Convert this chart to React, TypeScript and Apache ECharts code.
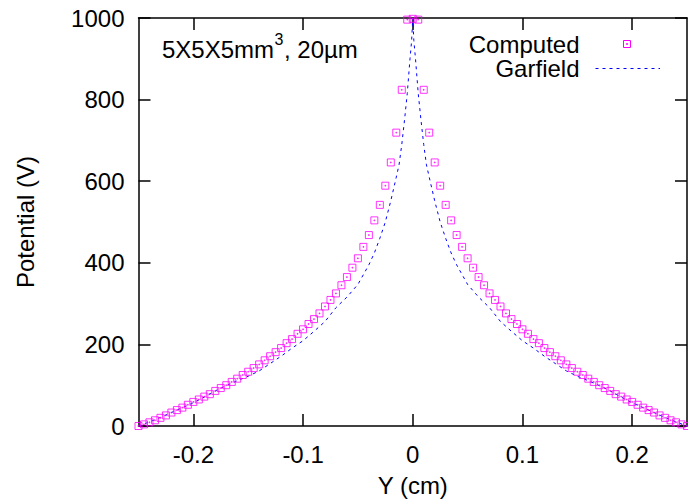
import React, { useEffect, useRef } from "react";
import * as echarts from "echarts";

// Computed potential (V) sampled every 0.005 cm
const computedY = [
  -0.25, -0.245, -0.24, -0.235, -0.23, -0.225, -0.22, -0.215, -0.21, -0.205,
  -0.2, -0.195, -0.19, -0.185, -0.18, -0.175, -0.17, -0.165, -0.16, -0.155,
  -0.15, -0.145, -0.14, -0.135, -0.13, -0.125, -0.12, -0.115, -0.11, -0.105,
  -0.1, -0.095, -0.09, -0.085, -0.08, -0.075, -0.07, -0.065, -0.06, -0.055,
  -0.05, -0.045, -0.04, -0.035, -0.03, -0.025, -0.02, -0.015, -0.01, -0.005,
  0,
  0.005, 0.01, 0.015, 0.02, 0.025, 0.03, 0.035, 0.04, 0.045, 0.05,
  0.055, 0.06, 0.065, 0.07, 0.075, 0.08, 0.085, 0.09, 0.095, 0.1,
  0.105, 0.11, 0.115, 0.12, 0.125, 0.13, 0.135, 0.14, 0.145, 0.15,
  0.155, 0.16, 0.165, 0.17, 0.175, 0.18, 0.185, 0.19, 0.195, 0.2,
  0.205, 0.21, 0.215, 0.22, 0.225, 0.23, 0.235, 0.24, 0.245, 0.25,
];
const computedV = [
  0, 4, 9, 14, 20, 26, 33, 39, 45, 52,
  59, 65, 72, 78, 86, 93, 100, 108, 116, 125,
  133, 142, 151, 161, 171, 181, 191, 203, 213, 226,
  237, 250, 262, 276, 293, 309, 325, 345, 365, 388,
  411, 439, 468, 504, 542, 589, 646, 719, 824, 996,
  998,
  996, 824, 719, 646, 589, 542, 504, 468, 439, 411,
  388, 365, 345, 325, 309, 293, 276, 262, 250, 237,
  226, 213, 203, 191, 181, 171, 161, 151, 142, 133,
  125, 116, 108, 100, 93, 86, 78, 72, 65, 59,
  52, 45, 39, 33, 26, 20, 14, 9, 4, 0,
];

// Garfield reference curve
const garfieldY = [
  -0.25, -0.24, -0.23, -0.22, -0.21, -0.2, -0.19, -0.18, -0.17, -0.16,
  -0.15, -0.14, -0.13, -0.12, -0.11, -0.1, -0.09, -0.08, -0.07, -0.06,
  -0.05, -0.04, -0.035, -0.03, -0.025, -0.02, -0.015, -0.0125, -0.01, -0.0075,
  -0.005, -0.0025, -0.001, 0,
  0.001, 0.0025, 0.005, 0.0075, 0.01, 0.0125, 0.015, 0.02, 0.025, 0.03,
  0.035, 0.04, 0.05, 0.06, 0.07, 0.08, 0.09, 0.1, 0.11, 0.12,
  0.13, 0.14, 0.15, 0.16, 0.17, 0.18, 0.19, 0.2, 0.21, 0.22,
  0.23, 0.24, 0.25,
];
const garfieldV = [
  0, 10, 21, 33, 45, 57, 71, 86, 99, 111,
  122, 135, 153, 171, 191, 209, 232, 256, 290, 316,
  347, 395, 424, 460, 500, 552, 610, 640, 690, 750,
  815, 900, 945, 1000,
  945, 900, 815, 750, 690, 640, 610, 552, 500, 460,
  424, 395, 347, 316, 290, 256, 232, 209, 191, 171,
  153, 135, 122, 111, 99, 86, 71, 57, 45, 33,
  21, 10, 0,
];

const legendNames = ["Computed", "Garfield"];
const xTicks = [-0.2, -0.1, 0, 0.1, 0.2];
const yTicks = [0, 200, 400, 600, 800, 1000];

const FONT = "Liberation Sans, Arial, Helvetica, sans-serif";

export default function App() {
  const ref = useRef<HTMLDivElement>(null);
  useEffect(() => {
    if (!ref.current) return;
    const chart = echarts.init(ref.current, undefined, { renderer: "svg" });
    const line = { onZero: false, lineStyle: { color: "#000", width: 1.5 } };
    const tick = { inside: true, length: 12, lineStyle: { color: "#000", width: 1.5 } };
    const sq = "path://M0,0H10V10H0Z M4.4,4.4H5.6V5.6H4.4Z";
    const fmt = (v: number) => String(v);
    chart.setOption({
      animation: false,
      backgroundColor: "#fff",
      textStyle: { fontFamily: FONT },
      grid: { left: 138.5, right: 1, top: 18, bottom: 73, containLabel: false, outerBoundsMode: "none" },
      xAxis: [
        {
          type: "value", min: -0.25, max: 0.25, position: "bottom",
          axisLine: line,
          axisTick: { ...tick, customValues: xTicks },
          axisLabel: { customValues: xTicks, formatter: fmt, color: "#000", fontSize: 24, fontFamily: FONT, margin: 16 },
          splitLine: { show: false },
          name: "Y (cm)", nameLocation: "middle", nameGap: 47,
          nameTextStyle: { color: "#000", fontSize: 24, fontFamily: FONT },
        },
        {
          type: "value", min: -0.25, max: 0.25, position: "top",
          axisLine: line,
          axisTick: { ...tick, customValues: xTicks },
          axisLabel: { show: false },
          splitLine: { show: false },
        },
      ],
      yAxis: [
        {
          type: "value", min: 0, max: 1000, interval: 200, position: "left",
          axisLine: line,
          axisTick: { ...tick, customValues: yTicks },
          axisLabel: { formatter: fmt, color: "#000", fontSize: 24, fontFamily: FONT, margin: 14 },
          splitLine: { show: false },
          name: "Potential (V)", nameLocation: "middle", nameGap: 101,
          nameTextStyle: { color: "#000", fontSize: 24, fontFamily: FONT },
        },
        {
          type: "value", min: 0, max: 1000, interval: 200, position: "right",
          axisLine: line,
          axisTick: { ...tick, customValues: yTicks },
          axisLabel: { show: false },
          splitLine: { show: false },
        },
      ],
      series: [
        {
          name: "Garfield", type: "line", xAxisIndex: 0, yAxisIndex: 0,
          data: garfieldY.map((y, i) => [y, garfieldV[i]]),
          showSymbol: false, symbol: "none",
          lineStyle: { color: "#0000ff", width: 1, type: [3, 4] },
          z: 2,
        },
        {
          name: "Computed", type: "scatter", xAxisIndex: 0, yAxisIndex: 0,
          data: computedY.map((y, i) => [y, computedV[i]]),
          symbol: sq, symbolSize: 7,
          itemStyle: { color: "transparent", borderColor: "#ff00ff", borderWidth: 1 },
          z: 3,
        },
      ],
      graphic: [
        {
          type: "text", x: 162, y: 49,
          style: { text: "5X5X5mm", font: `24px ${FONT}`, fill: "#000", verticalAlign: "middle", align: "left" },
        },
        {
          type: "text", x: 274.5, y: 39,
          style: { text: "3", font: `16px ${FONT}`, fill: "#000", verticalAlign: "middle", align: "left" },
        },
        {
          type: "text", x: 284, y: 49,
          style: { text: ", 20µm", font: `24px ${FONT}`, fill: "#000", verticalAlign: "middle", align: "left" },
        },
        {
          type: "text", x: 579.5, y: 56,
          style: { text: legendNames.join("\n"), font: `24px ${FONT}`, lineHeight: 24, fill: "#000", verticalAlign: "middle", align: "right" },
        },
        {
          type: "rect", shape: { x: 623.5, y: 40.5, width: 7, height: 7 },
          style: { fill: "none", stroke: "#ff00ff", lineWidth: 1 },
        },
        {
          type: "rect", shape: { x: 626.5, y: 43.5, width: 1, height: 1 },
          style: { fill: "none", stroke: "#ff00ff", lineWidth: 1 },
        },
        {
          type: "line", shape: { x1: 595.5, y1: 68.5, x2: 660, y2: 68.5 },
          style: { stroke: "#0000ff", lineWidth: 1, lineDash: [3, 4] },
        },
      ],
    });
    return () => chart.dispose();
  }, []);
  return (
    <div
      ref={ref}
      style={{ position: "fixed", left: 0, top: 0, width: 688, height: 499 }}
    />
  );
}
